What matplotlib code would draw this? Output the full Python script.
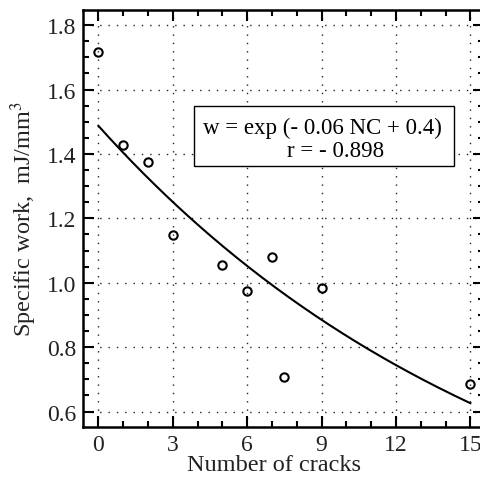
import numpy as np
import matplotlib
matplotlib.use("Agg")
import matplotlib.pyplot as plt
import matplotlib.ticker as mticker
from matplotlib.patches import Rectangle

# data
cracks = [0, 1, 2, 3, 5, 6, 7, 7.5, 9, 15]
work = [1.717, 1.428, 1.374, 1.147, 1.056, 0.973, 1.079, 0.708, 0.985, 0.684]

# fitted curve w = exp(a * NC + b), as drawn
fit_a = -0.0577
fit_b = 0.397
fit_range = [0, 15]

eq_text = "w = exp (- 0.06 NC + 0.4)"
r_text = "r = - 0.898"

plt.rcParams["font.family"] = ["Liberation Serif", "DejaVu Serif"]
plt.rcParams["mathtext.fontset"] = "stix"

fig = plt.figure(figsize=(4.81, 4.85), dpi=100)
ax = fig.add_axes([83 / 481, 57 / 485, 401 / 481, 417 / 485])

nc = np.linspace(fit_range[0], fit_range[1], 200)
ax.plot(nc, np.exp(fit_a * nc + fit_b), color="black", lw=1.5, zorder=3)
ax.plot(cracks, work, "o", mfc="none", mec="black", ms=6, mew=1.5, zorder=4)

ax.set_xlim(-0.62, 15.55)
ax.set_ylim(0.552, 1.847)
ax.xaxis.set_major_locator(mticker.MultipleLocator(3))
ax.xaxis.set_minor_locator(mticker.MultipleLocator(1))
ax.yaxis.set_major_locator(mticker.MultipleLocator(0.2))
ax.yaxis.set_minor_locator(mticker.MultipleLocator(0.05))
ax.yaxis.set_major_formatter(mticker.FormatStrFormatter("%.1f"))

ax.tick_params(which="both", direction="in", top=True, right=True,
               labelsize=17, width=1.5, labelcolor="#222222")
ax.tick_params(which="major", length=8, pad=5)
ax.tick_params(which="minor", length=4)
for s in ax.spines.values():
    s.set_linewidth(1.8)

ax.grid(True, which="major", color="#222222", lw=1.0, linestyle=(0, (1, 5)))

ax.set_xlabel("Number of cracks", fontsize=17.5, color="#222222")
ax.xaxis.set_label_coords(0.4775, -0.065)
ax.set_ylabel("Specific work,  mJ/mm$^3$", fontsize=17.5, color="#222222")
ax.yaxis.set_label_coords(-0.11, 0.5)

ax.add_patch(Rectangle((0.277, 0.626), 0.648, 0.144, transform=ax.transAxes,
                       facecolor="white", edgecolor="black", lw=1.0, zorder=5))
ax.text((322.5 - 83) / 401, (428 - 128) / 417, eq_text, transform=ax.transAxes,
        ha="center", va="center", fontsize=16.5, zorder=6)
ax.text((336 - 83) / 401, (428 - 152) / 417, r_text, transform=ax.transAxes,
        ha="center", va="center", fontsize=16.5, zorder=6)

fig.savefig("out.png", dpi=100)
